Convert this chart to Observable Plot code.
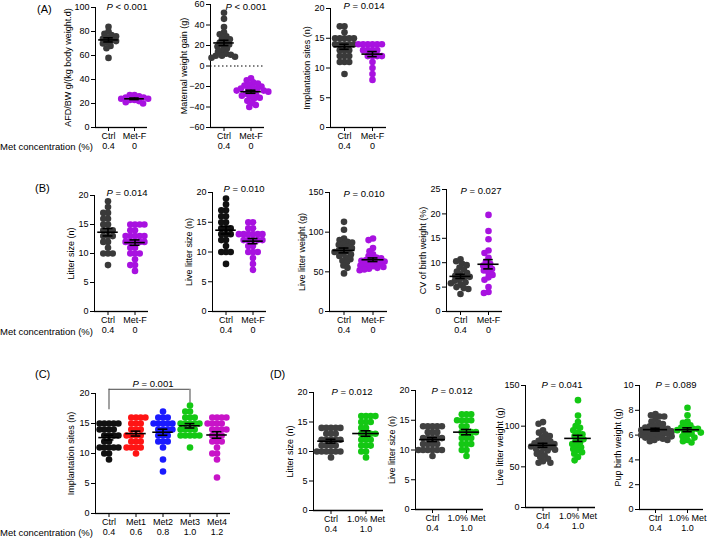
<!DOCTYPE html>
<html><head><meta charset="utf-8">
<script src="https://cdn.jsdelivr.net/npm/d3@7"></script>
<script src="https://cdn.jsdelivr.net/npm/@observablehq/plot@0.6"></script>
<style>
body{margin:0;background:#fff;}
#fig{position:relative;width:709px;height:538px;overflow:hidden;font-family:"Liberation Sans",Arial,sans-serif;color:#000;background:#fff;}
.t{position:absolute;font-size:9.5px;white-space:nowrap;line-height:1;}
.pv{transform:translate(-50%,-50%);}
.mc{transform:translate(0,-50%);}
.lab{font-size:11px;transform:translate(0,-50%);}
#fig svg{position:absolute;}
</style></head><body><div id="fig"></div>
<script>
// ---------- categories ----------
const groupsF = ["Ctrl", "Met-F"];
const concF = ["0.4", "0"];
const groupsC = ["Ctrl", "Met1", "Met2", "Met3", "Met4"];
const concC = ["0.4", "0.6", "0.8", "1.0", "1.2"];
const groupsD = ["Ctrl", "1.0% Met"];
const concD = ["0.4", "1.0"];

// ---------- colours ----------
const colF = ["#3a3a3a", "#a812e0"];
const colB2 = ["#111111", "#a812e0"];
const colC = ["#111111", "#ff1414", "#1a1aff", "#14c814", "#c814c8"];
const colD = ["#404040", "#14c814"];

// ---------- (A) values ----------
const afdCtrl = [84, 80, 78, 77, 76, 75, 74, 73, 72, 71, 70, 68, 66, 58];
const afdMetF = [27, 27, 26, 25, 25, 24, 24, 23, 23, 22, 21, 20];
const gainCtrl = [52, 46, 38, 33, 31, 29, 27, 26, 24, 23, 21, 20, 19, 17, 15, 14, 12, 11, 10, 10, 9, 8];
const gainMetF = [-12, -14, -16, -17, -18, -19, -20, -21, -22, -22, -23, -24, -24, -25, -26, -27, -28, -29, -30, -31, -32, -34, -36, -38, -40];
const implACtrl = [17, 17, 16, 15, 15, 15, 15, 15, 14, 14, 14, 14, 14, 13, 13, 13, 12, 12, 12, 11, 11, 11, 9];
const implAMetF = [14, 14, 14, 14, 14, 14, 13, 13, 13, 13, 12, 12, 12, 12, 11, 10, 9, 8];

// ---------- (B) values ----------
const litterBCtrl = [19, 18, 17, 17, 16, 16, 15, 15, 14, 14, 14, 13, 13, 13, 12, 12, 11, 10, 10, 10, 8];
const litterBMetF = [15, 15, 15, 15, 14, 14, 13, 13, 13, 13, 13, 12, 12, 12, 12, 12, 11, 11, 10, 10, 10, 9, 8, 8, 7];
const liveBCtrl = [19, 18, 17, 17, 16, 16, 15, 15, 14, 14, 14, 13, 13, 13, 12, 12, 11, 10, 10, 10, 8];
const liveBMetF = [15, 15, 14, 13, 13, 13, 13, 13, 13, 12, 12, 12, 12, 12, 11, 11, 10, 10, 10, 9, 8, 7, 14];
const weightBCtrl = [113, 103, 92, 90, 88, 87, 85, 84, 82, 80, 79, 77, 76, 75, 73, 72, 70, 68, 66, 64, 62, 58, 55, 48];
const weightBMetF = [92, 90, 80, 76, 72, 70, 68, 67, 66, 65, 64, 63, 62, 61, 60, 59, 58, 57, 56, 55, 54, 53, 52];
const cvCtrl = [10.7, 10.3, 9.8, 9.5, 9.0, 8.6, 8.2, 7.9, 7.6, 7.3, 7.1, 6.9, 6.6, 6.3, 6.0, 5.8, 5.5, 5.0, 4.8, 4.6, 3.6];
const cvMetF = [19.8, 16.5, 14.8, 12.5, 12.0, 11.0, 10.2, 9.8, 9.4, 9.0, 8.7, 8.4, 8.0, 7.5, 7.0, 6.5, 5.0, 4.0, 3.8];

// ---------- (C) values ----------
const implCCtrl = [15, 15, 15, 15, 15, 14, 14, 14, 14, 13, 13, 13, 13, 12, 12, 11, 11, 11, 11, 11, 10, 10, 9];
const implCMet1 = [16, 16, 16, 16, 15, 15, 15, 14, 14, 14, 13, 13, 13, 13, 12, 12, 12, 11, 11, 11, 11, 10];
const implCMet2 = [17, 16, 16, 16, 15, 15, 15, 15, 15, 14, 14, 14, 14, 13, 13, 13, 12, 12, 12, 11, 9, 7];
const implCMet3 = [18, 17, 17, 16, 16, 16, 15, 15, 15, 15, 15, 14, 14, 14, 14, 13, 13, 13, 13, 13, 11];
const implCMet4 = [16, 16, 16, 16, 15, 15, 15, 15, 14, 14, 14, 14, 13, 13, 13, 12, 12, 12, 11, 10, 10, 9, 6];
const bracketC = {from: "Ctrl", to: "Met3", top: 20.7, fromEnd: 17.3, toEnd: 18.4};

// ---------- (D) values ----------
const litterDCtrl = [14, 14, 14, 14, 14, 13, 13, 13, 12, 12, 12, 12, 12, 11, 11, 11, 11, 10, 10, 10, 10, 10, 10, 9];
const litterDMet = [16, 16, 16, 16, 15, 15, 15, 14, 14, 13, 13, 13, 13, 12, 12, 12, 11, 11, 11, 10, 10, 9];
const liveDCtrl = [14, 14, 14, 14, 14, 13, 13, 13, 12, 12, 12, 12, 12, 11, 11, 11, 11, 10, 10, 10, 10, 10, 10, 9];
const liveDMet = [16, 16, 16, 15, 15, 15, 15, 14, 14, 13, 13, 13, 13, 12, 12, 12, 11, 11, 11, 10, 10, 9];
const weightDCtrl = [105, 103, 95, 92, 90, 88, 86, 84, 82, 81, 80, 79, 78, 77, 76, 75, 74, 73, 72, 71, 70, 68, 66, 64, 62, 60, 57, 55, 55];
const weightDMet = [132, 113, 105, 100, 98, 95, 92, 90, 88, 86, 84, 82, 80, 78, 76, 74, 72, 70, 68, 66, 62, 58];
const pupDCtrl = [7.7, 7.6, 7.5, 7.5, 7.3, 7.1, 7.0, 6.9, 6.8, 6.7, 6.6, 6.6, 6.5, 6.5, 6.4, 6.4, 6.3, 6.3, 6.2, 6.2, 6.1, 6.1, 6.0, 6.0, 5.9, 5.9, 5.8, 5.8, 5.7, 5.6, 5.6, 5.5];
const pupDMet = [8.2, 7.6, 7.1, 7.0, 6.8, 6.7, 6.6, 6.5, 6.5, 6.4, 6.4, 6.3, 6.2, 6.1, 6.0, 5.9, 5.8, 5.6, 5.5, 5.4];

// ---------- texts ----------
const pValues = [
  {t: "< 0.001", x: 127, y: 7}, {t: "< 0.001", x: 246, y: 7}, {t: "= 0.014", x: 364, y: 6},
  {t: "= 0.014", x: 127, y: 193}, {t: "= 0.010", x: 244, y: 189}, {t: "= 0.010", x: 364, y: 194}, {t: "= 0.027", x: 481, y: 191},
  {t: "= 0.001", x: 153, y: 384},
  {t: "= 0.012", x: 352, y: 392}, {t: "= 0.012", x: 452, y: 391}, {t: "= 0.041", x: 562, y: 385}, {t: "= 0.089", x: 676, y: 385}
];
const panelLetters = [{t: "(A)", x: 37, y: 9}, {t: "(B)", x: 35, y: 188}, {t: "(C)", x: 35, y: 374}, {t: "(D)", x: 270, y: 374}];
const concTitle = "Met concentration (%)";
const concTitleY = [147, 332, 533];

const fig = document.getElementById("fig");

function panel(c) {
  const mL = 48, mR = 4, mT = 6, mB = 30;
  const n = c.groups.length;
  const bw = (c.ex - c.ax) / n;
  const rows = c.groups.flatMap((g, i) => c.values[i].map(v => ({g, v, col: c.colors[i]})));
  const stats = c.groups.map((g, i) => {
    const m = d3.mean(c.values[i]);
    const s = d3.deviation(c.values[i]) / Math.sqrt(c.values[i].length);
    return {g, m, lo: m - s, hi: m + s};
  });
  const concRows = c.groups.map((g, i) => ({g, t: c.conc[i]}));
  const marks = [
    Plot.ruleY([c.domain[0]], {stroke: "#000", strokeWidth: 1.3}),
    c.zero ? Plot.ruleY([0], {stroke: "#000", strokeDasharray: "1.5,2.5", strokeWidth: 1}) : null,
    Plot.dot(rows, Plot.dodgeX({anchor: "middle", padding: 0, r: 2.35}, {fx: "g", y: "v", r: 3.3, fill: "col", stroke: null})),
    Plot.tickY(stats, {fx: "g", y: "m", insetLeft: bw * 0.12, insetRight: bw * 0.12, stroke: "#000", strokeWidth: 1.6}),
    Plot.ruleX(stats, {fx: "g", x: null, y1: "lo", y2: "hi", stroke: "#000", strokeWidth: 1.6}),
    Plot.tickY(stats, {fx: "g", y: "lo", insetLeft: bw / 2 - 5, insetRight: bw / 2 - 5, stroke: "#000", strokeWidth: 1.6}),
    Plot.tickY(stats, {fx: "g", y: "hi", insetLeft: bw / 2 - 5, insetRight: bw / 2 - 5, stroke: "#000", strokeWidth: 1.6}),
    Plot.text(concRows, {fx: "g", text: "t", frameAnchor: "bottom", dy: 21, fontSize: 9, fill: "#000"})
  ];
  if (c.bracket) {
    const b = c.bracket;
    const i0 = c.groups.indexOf(b.from), i1 = c.groups.indexOf(b.to);
    const mid = c.groups.slice(i0 + 1, i1).map(g => ({g, y: b.top}));
    const legs = [{g: b.from, lo: b.fromEnd, hi: b.top}, {g: b.to, lo: b.toEnd, hi: b.top}];
    const st = {stroke: "#555", strokeWidth: 1.1};
    marks.push(
      Plot.tickY([{g: b.from, y: b.top}], {fx: "g", y: "y", insetLeft: bw / 2, ...st}),
      Plot.tickY(mid, {fx: "g", y: "y", ...st}),
      Plot.tickY([{g: b.to, y: b.top}], {fx: "g", y: "y", insetRight: bw / 2, ...st}),
      Plot.ruleX(legs, {fx: "g", x: null, y1: "lo", y2: "hi", ...st})
    );
  }
  const svg = Plot.plot({
    width: c.ex - c.ax + mL + mR,
    height: c.by - c.ty + mT + mB,
    marginLeft: mL, marginRight: mR, marginTop: mT, marginBottom: mB,
    style: {fontFamily: "'Liberation Sans', Arial, sans-serif", fontSize: "9px", color: "#000", background: "transparent", overflow: "visible"},
    fx: {domain: c.groups, padding: 0, axis: "bottom", tickSize: 4, tickPadding: 1, label: null},
    y: {domain: c.domain, ticks: c.ticks, line: true, tickSize: 4, tickPadding: 2, label: c.label, labelArrow: "none", labelAnchor: "center", labelOffset: c.lo},
    color: {type: "identity"},
    marks
  });
  svg.style.left = (c.ax - mL) + "px";
  svg.style.top = (c.ty - mT) + "px";
  fig.appendChild(svg);
}

const r5 = [0, 5, 10, 15, 20];
const panels = [
  {ax: 94, ex: 147, ty: 7, by: 127, groups: groupsF, conc: concF, colors: colF, values: [afdCtrl, afdMetF], domain: [0, 100], ticks: [0, 20, 40, 60, 80, 100], label: "AFD/BW g/(kg body weight.d)", lo: 31},
  {ax: 210, ex: 264, ty: 4, by: 127, groups: groupsF, conc: concF, colors: colF, values: [gainCtrl, gainMetF], domain: [-60, 60], ticks: [-60, -40, -20, 0, 20, 40, 60], label: "Maternal weight gain (g)", lo: 30, zero: true},
  {ax: 329, ex: 386, ty: 8, by: 127, groups: groupsF, conc: concF, colors: colF, values: [implACtrl, implAMetF], domain: [0, 20], ticks: r5, label: "Implantation sites (n)", lo: 27},
  {ax: 94, ex: 148, ty: 195, by: 311, groups: groupsF, conc: concF, colors: colF, values: [litterBCtrl, litterBMetF], domain: [0, 20], ticks: r5, label: "Litter size (n)", lo: 27},
  {ax: 212, ex: 266, ty: 192, by: 311, groups: groupsF, conc: concF, colors: colB2, values: [liveBCtrl, liveBMetF], domain: [0, 20], ticks: r5, label: "Live litter size (n)", lo: 27},
  {ax: 329, ex: 387, ty: 192, by: 311, groups: groupsF, conc: concF, colors: colF, values: [weightBCtrl, weightBMetF], domain: [0, 150], ticks: [0, 50, 100, 150], label: "Live litter weight (g)", lo: 31},
  {ax: 445, ex: 502, ty: 189, by: 311, groups: groupsF, conc: concF, colors: colF, values: [cvCtrl, cvMetF], domain: [0, 25], ticks: [0, 5, 10, 15, 20, 25], label: "CV of birth weight (%)", lo: 27},
  {ax: 94, ex: 230, ty: 393, by: 513, groups: groupsC, conc: concC, colors: colC, values: [implCCtrl, implCMet1, implCMet2, implCMet3, implCMet4], domain: [0, 20], ticks: r5, label: "Implantation sites (n)", lo: 28, bracket: bracketC},
  {ax: 313, ex: 383, ty: 392, by: 510, groups: groupsD, conc: concD, colors: colD, values: [litterDCtrl, litterDMet], domain: [0, 20], ticks: r5, label: "Litter size (n)", lo: 27},
  {ax: 415, ex: 483, ty: 390, by: 509, groups: groupsD, conc: concD, colors: colD, values: [liveDCtrl, liveDMet], domain: [0, 20], ticks: r5, label: "Live litter size (n)", lo: 27},
  {ax: 525, ex: 595, ty: 385, by: 507, groups: groupsD, conc: concD, colors: colD, values: [weightDCtrl, weightDMet], domain: [0, 150], ticks: [0, 50, 100, 150], label: "Live litter weight (g)", lo: 29},
  {ax: 638, ex: 703, ty: 385, by: 509, groups: groupsD, conc: concD, colors: colD, values: [pupDCtrl, pupDMet], domain: [0, 10], ticks: [0, 2, 4, 6, 8, 10], label: "Pup birth weight (g)", lo: 25}
];
panels.forEach(panel);

function addText(cls, html, x, y) {
  const d = document.createElement("div");
  d.className = "t " + cls;
  d.innerHTML = html;
  d.style.left = x + "px";
  d.style.top = y + "px";
  fig.appendChild(d);
}
pValues.forEach(p => addText("pv", "<i>P</i> " + p.t, p.x, p.y));
panelLetters.forEach(p => addText("lab", p.t, p.x, p.y));
concTitleY.forEach(y => addText("mc", concTitle, 0, y));
</script></body></html>
